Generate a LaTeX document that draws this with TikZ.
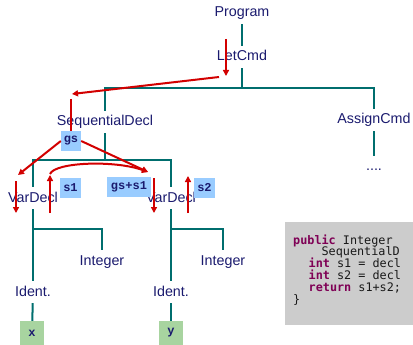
\documentclass[tikz,border=0pt]{standalone}
\usepackage{fontspec}
\usepackage{xcolor}
\setmainfont{Liberation Sans}
\newfontfamily\codefont{DejaVu Sans Mono}
\newfontfamily\attrfont{Liberation Mono}
\usetikzlibrary{arrows.meta}

\definecolor{treeblue}{RGB}{26,26,110}
\definecolor{treeteal}{RGB}{0,110,110}
\definecolor{flowred}{RGB}{210,0,0}
\definecolor{attrblue}{RGB}{153,204,255}
\definecolor{leafgreen}{RGB}{168,212,160}
\definecolor{codegray}{RGB}{204,204,204}
\definecolor{keyword}{RGB}{127,0,85}
\newcommand{\kw}[1]{\textcolor{keyword}{\bfseries #1}}

\tikzset{
  term/.style={text=treeblue, font=\fontsize{14.3}{16}\selectfont, text height=11pt, text depth=3pt, inner xsep=2pt, inner ysep=4pt},
  branch/.style={draw=treeteal, line width=2pt},
  flow/.style={draw=flowred, line width=2pt, -{Triangle[length=6pt,width=6pt]}},
  attr/.style={fill=attrblue, text=treeblue, font=\attrfont\bfseries\fontsize{12}{14}\selectfont, inner sep=0pt, minimum height=20pt},
  leaf/.style={fill=leafgreen, text=treeblue, font=\attrfont\bfseries\fontsize{12}{14}\selectfont, inner sep=0pt, minimum size=24pt},
  codeline/.style={anchor=base west, inner sep=0pt, text=black!90, font=\codefont\fontsize{11.8}{12}\selectfont},
}

\begin{document}
\begin{tikzpicture}[x=1pt, y=-1pt]
\useasboundingbox (0,0) rectangle (413,345);

\node [term] (prog) at (242,13) {Program};
\node [term] (let) at (242,57) {LetCmd};
\node [term] (seq) at (105,122) {SequentialDecl};
\node [term] (assign) at (374,120) {AssignCmd};
\node [term] (dots) at (374,167) {....};
\node [term] (vdl) at (33,198) {VarDecl};
\node [term] (vdr) at (171,198) {VarDecl};
\node [term] (intl) at (102,261) {Integer};
\node [term] (intr) at (223,261) {Integer};
\node [term] (idl) at (33,292) {Ident.};
\node [term] (idr) at (171,292) {Ident.};
\node [leaf] (x) at (32,333) {x};
\node [leaf] (y) at (171,333) {y};

\draw [branch] (prog) -- (let);
\draw [branch] (let.south) -- ++(0,20) -| (seq.north);
\draw [branch] (let.south) -- ++(0,20) -| (assign.north);
\draw [branch] (assign) -- (dots);
\draw [branch] (seq.south) -- ++(0,27) -| (vdl.north);
\draw [branch] (seq.south) -- ++(0,27) -| (vdr.north);
\draw [branch] (vdl) -- (idl);
\draw [branch] (vdl.south) ++(0,20) -| (intl.north);
\draw [branch] (vdr) -- (idr);
\draw [branch] (vdr.south) ++(0,20) -| (intr.north);
\draw [branch] (idl) -- (x);
\draw [branch] (idr) -- (y);

% attribute flow
\coordinate (let in) at (226,39);
\coordinate (let out) at (226,76);
\coordinate (seq from) at (219,77);
\coordinate (seq to) at (72,94);
\coordinate (seq in) at (71,99);
\coordinate (vdl in) at (18,175);
\coordinate (vdr in) at (148,172);
\coordinate (vdl down) at (16,181);
\coordinate (vdl low) at (16,213);
\coordinate (vdl up) at (50,213);
\coordinate (vdl back) at (50,175);
\coordinate (vdr down) at (154,178);
\coordinate (vdr low) at (154,213);
\coordinate (vdr up) at (188,213);
\coordinate (vdr back) at (188,176);

\draw [flow] (let in) -- (let out);
\draw [flow] (seq from) -- (seq to);
\draw [flow] (vdl down) -- (vdl low);
\draw [flow] (vdl up) -- (vdl back);
\draw [flow] (50,174) .. controls (55,162) and (115,160) .. (vdr in);
\draw [flow] (vdr down) -- (vdr low);
\draw [flow] (vdr up) -- (vdr back);

\node [attr, minimum width=20pt] (gs) at (71,141) {gs};
\node [attr, minimum width=21pt] (s1) at (70.5,187.5) {s1};
\node [attr, minimum width=44pt] (gss1) at (129,187) {gs+s1};
\node [attr, minimum width=21pt] (s2) at (204.5,188) {s2};

\draw [flow, -] (seq in) -- (gs.north);
\draw [flow] (gs.west) -- (vdl in);
\draw [flow] (gs.east) -- (vdr in);

% code
\node [fill=codegray, anchor=north west, minimum width=128pt, minimum height=103pt, inner sep=0pt] (code) at (285,222) {};
\node [codeline] (line1) at (293,244) {\kw{public} Integer};
\node [codeline] (line2) at (321.4,255.9) {SequentialD};
\node [codeline] (line3) at (308.5,267.8) {\kw{int} s1 = decl};
\node [codeline] (line4) at (308.5,279.7) {\kw{int} s2 = decl};
\node [codeline] (line5) at (308.5,291.6) {\kw{return} s1+s2;};
\node [codeline] (line6) at (293,303.5) {\}};
\end{tikzpicture}
\end{document}
